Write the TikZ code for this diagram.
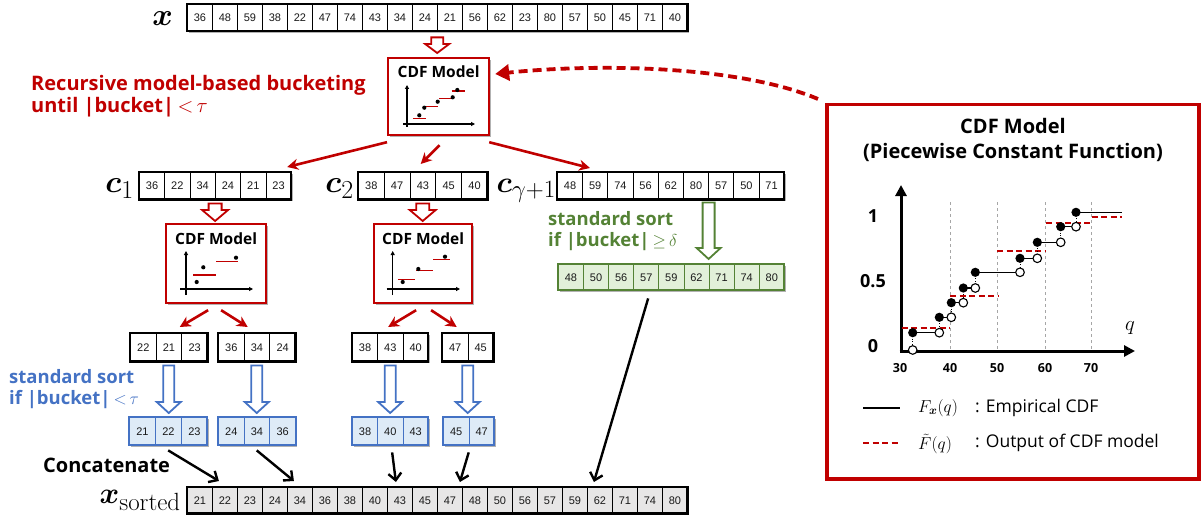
\documentclass[tikz,border=0pt]{standalone}
\usepackage{amsmath}
\usepackage[no-math]{fontspec}
\setmainfont{Open Sans}
\newfontfamily\cellfont{Liberation Sans}
\usepackage{bm}
\usetikzlibrary{arrows.meta,calc,shadows}
\definecolor{myred}{HTML}{C00000}
\definecolor{myblue}{HTML}{4472C4}
\definecolor{bluefill}{HTML}{DEEBF7}
\definecolor{mygreen}{HTML}{548235}
\definecolor{greenfill}{HTML}{E2F0D9}
\definecolor{grayfill}{HTML}{E7E6E6}
\newcommand\arr[8]{%
  \node[#7frame, minimum width=#2*#5pt, minimum height=#6pt] (#1) at (#3,#4) {};
  \foreach \v [count=\i] in {#8}{
    \node[#7cell, minimum width=#5pt, minimum height=#6pt] (#1-\i) at ({#3+(\i-1)*#5},#4) {\v};
  }
  \draw[#7border] (#1.north west) rectangle (#1.south east);
}
\newcommand\hollow[6]{%
  \draw[#1] let \p1=(#2), \p2=(#3) in
    (\x1-#4pt,\y1) -- (\x1+#4pt,\y1) -- (\x1+#4pt,\y2+#6pt) -- (\x1+#5pt,\y2+#6pt)
    -- (\x1,\y2) -- (\x1-#5pt,\y2+#6pt) -- (\x1-#4pt,\y2+#6pt) -- cycle;
}
\begin{document}
\begin{tikzpicture}[x=1pt,y=-1pt,
  shadowed/.style={drop shadow={shadow xshift=1.5pt,shadow yshift=-1.5pt,opacity=0.3,fill=black}},
  framebase/.style={rectangle,inner sep=0pt,anchor=north west,shadowed},
  cellbase/.style={rectangle,inner sep=0pt,anchor=north west,font=\cellfont\fontsize{11}{12}\selectfont,text=black!90},
  plainframe/.style={framebase,fill=white},
  plaincell/.style={cellbase,fill=white,draw=black,line width=0.8pt},
  plainborder/.style={draw=black,line width=2.2pt},
  grayframe/.style={framebase,fill=grayfill},
  graycell/.style={cellbase,fill=grayfill,draw=black,line width=0.8pt},
  grayborder/.style={draw=black,line width=2.2pt},
  blueframe/.style={framebase,fill=bluefill},
  bluecell/.style={cellbase,fill=bluefill,draw=myblue,line width=0.8pt},
  blueborder/.style={draw=myblue,line width=2pt},
  greenframe/.style={framebase,fill=greenfill},
  greencell/.style={cellbase,fill=greenfill,draw=mygreen,line width=0.8pt},
  greenborder/.style={draw=mygreen,line width=2pt},
  cdfbox/.style={rectangle,draw=myred,line width=2.2pt,fill=white,anchor=north west,inner sep=0pt,shadowed},
  boxtitle/.style={font=\bfseries\fontsize{15.5}{18}\selectfont},
  redarr/.style={draw=myred,line width=2.6pt,-{Stealth[length=11pt,width=11pt]}},
  blackarr/.style={draw=black,line width=2.4pt,-{Straight Barb[length=7pt,width=13pt]}},
  redhollow/.style={draw=myred,line width=1.8pt,fill=white},
  bluehollow/.style={draw=myblue,line width=1.8pt,fill=white},
  greenhollow/.style={draw=mygreen,line width=1.8pt,fill=white},
  miniax/.style={line width=1.1pt,-{Triangle[length=4pt,width=4pt]}},
  miniseg/.style={draw=myred,line width=1.3pt},
  bigdash/.style={draw=myred,line width=3.8pt,dash pattern=on 9pt off 5pt,-{Triangle[length=14pt,width=16pt]}},
  modeldash/.style={draw=myred,line width=2.2pt,dash pattern=on 6pt off 3.5pt},
  mathlbl/.style={anchor=base east,inner sep=0pt,font=\fontsize{24.88}{30}\selectfont},
  redtxt/.style={anchor=base west,inner sep=0pt,text=myred,font=\bfseries\fontsize{20}{24}\selectfont},
  bluetxt/.style={anchor=base west,inner sep=0pt,text=myblue,font=\bfseries\fontsize{18.5}{22}\selectfont},
  greentxt/.style={anchor=base west,inner sep=0pt,text=mygreen,font=\bfseries\fontsize{18.5}{22}\selectfont},
  blacktxt/.style={anchor=base west,inner sep=0pt,font=\bfseries\fontsize{20}{24}\selectfont},
  ticklbl/.style={inner sep=0pt,font=\bfseries\fontsize{12.5}{14}\selectfont},
  ylbl/.style={inner sep=0pt,font=\bfseries\fontsize{18}{20}\selectfont},
  legtxt/.style={anchor=west,inner sep=0pt,font=\fontsize{17.5}{20}\selectfont},
  filldot/.style={fill=black},
  holdot/.style={fill=white,draw=black,line width=1.1pt}
]
\useasboundingbox (0,0) rectangle (1201,516);

% ---------- arrays ----------
\arr{xin}{20}{187}{4}{25}{27}{plain}{36,48,59,38,22,47,74,43,34,24,21,56,62,23,80,57,50,45,71,40}
\arr{c1}{6}{139}{172}{25.3}{27}{plain}{36,22,34,24,21,23}
\arr{c2}{5}{358}{172}{25.8}{27}{plain}{38,47,43,45,40}
\arr{cg}{9}{557}{172}{25.2}{27}{plain}{48,59,74,56,62,80,57,50,71}
\arr{G}{9}{558}{264}{25.1}{26}{green}{48,50,56,57,59,62,71,74,80}
\arr{L1}{3}{130}{333}{25.7}{28}{plain}{22,21,23}
\arr{L2}{3}{218}{333}{25.7}{28}{plain}{36,34,24}
\arr{L3}{3}{352}{333}{25.3}{28}{plain}{38,43,40}
\arr{L4}{2}{442}{333}{25.5}{28}{plain}{47,45}
\arr{S1}{3}{129}{417}{26}{28}{blue}{21,22,23}
\arr{S2}{3}{218}{417}{25.7}{28}{blue}{24,34,36}
\arr{S3}{3}{352}{417}{25.3}{28}{blue}{38,40,43}
\arr{S4}{2}{443}{417}{25.5}{28}{blue}{45,47}
\arr{xs}{20}{187}{487}{25}{26}{gray}{21,22,23,24,34,36,38,40,43,45,47,48,50,56,57,59,62,71,74,80}

% ---------- labels of arrays ----------
\node[mathlbl] (xlbl) at (173,26) {\scalebox{1.25}{$\bm{x}$}};
\node[mathlbl] (c1lbl) at (134,192) {\scalebox{1.25}{$\bm{c}_1$}};
\node[mathlbl] (c2lbl) at (354,192) {\scalebox{1.25}{$\bm{c}_2$}};
\node[mathlbl] (cglbl) at (556,192) {\scalebox{1.2}{$\bm{c}_{\gamma+1}$}};
\node[mathlbl] (xslbl) at (181,503) {\scalebox{1.2}{$\bm{x}_{\mathrm{sorted}}$}};

% ---------- CDF model boxes ----------
\node[cdfbox,minimum width=101pt,minimum height=77pt] (topcdf) at (387,57) {};
\node[boxtitle] (topcdf-t) at ($(topcdf.north)+(0,15)$) {CDF Model};
\draw[miniax] (407,127) -- (407,85);
\draw[miniax] (403,124) -- (475,124);
\draw[miniseg] (413,118.3) -- (426,118.3);
\draw[miniseg] (424,106.7) -- (437.7,106.7);
\draw[miniseg] (439,98.3) -- (452.7,98.3);
\draw[miniseg] (451.7,91) -- (465,91);
\foreach \p in {(419.3,115.3),(424.3,107.7),(437.7,101.7),(452.7,97.3),(457.3,90)} \fill \p circle (2.1pt);

\node[cdfbox,minimum width=100pt,minimum height=79pt] (m1) at (165,223) {};
\node[boxtitle] (m1-t) at ($(m1.north)+(0,16)$) {CDF Model};
\draw[miniax] (186,295) -- (186,251);
\draw[miniax] (180,289) -- (253,289);
\draw[miniseg] (193.3,275) -- (216,275);
\draw[miniseg] (216,261.7) -- (237.7,261.7);
\foreach \p in {(196.7,282),(203.3,267.3),(236,257.7)} \fill \p circle (2.1pt);

\node[cdfbox,minimum width=98pt,minimum height=79pt] (m2) at (373,223) {};
\node[boxtitle] (m2-t) at ($(m2.north)+(0,16)$) {CDF Model};
\draw[miniax] (392.7,295) -- (392.7,251);
\draw[miniax] (386.7,289) -- (460,289);
\draw[miniseg] (398.3,279.3) -- (415,279.3);
\draw[miniseg] (416,270.7) -- (432.7,270.7);
\draw[miniseg] (433.3,259.3) -- (450,259.3);
\foreach \p in {(402.7,282),(418.3,269),(445,256.7)} \fill \p circle (2.1pt);

% ---------- hollow arrows ----------
\hollow{redhollow}{$(xin.south)+(0,6)$}{$(topcdf.north)+(0,-4)$}{6}{12}{9}
\hollow{redhollow}{$(c1.south)+(0,4)$}{$(m1.north)+(0,-2)$}{6.5}{13}{11}
\hollow{redhollow}{$(c2.south)+(0,4)$}{$(m2.north)+(0,-2)$}{6.5}{13}{11}
\hollow{greenhollow}{$(cg.south)+(38,3)$}{$(G.north)+(38,-5)$}{6}{12}{11}
\hollow{bluehollow}{$(L1.south)+(0,4)$}{$(S1.north)+(0,-4)$}{5.5}{12}{11}
\hollow{bluehollow}{$(L2.south)+(0,4)$}{$(S2.north)+(0,-4)$}{5.5}{12}{11}
\hollow{bluehollow}{$(L3.south)+(0,4)$}{$(S3.north)+(0,-4)$}{5.5}{12}{11}
\hollow{bluehollow}{$(L4.south)+(0,4)$}{$(S4.north)+(0,-4)$}{5.5}{12}{11}

% ---------- red arrows ----------
\draw[redarr] ($(topcdf.south west)+(0,6)$) -- ($(c1.north east)+(-4,-5)$);
\draw[redarr] ($(topcdf.south)+(1,9)$) -- ($(c2.north)+(-2,-8)$);
\draw[redarr] ($(topcdf.south east)+(-1,6)$) -- ($(cg.north west)+(33,-4)$);
\draw[redarr] ($(m1.south)+(-8,6)$) -- ($(L1.north)+(11,-6)$);
\draw[redarr] ($(m1.south)+(5,6)$) -- ($(L2.north)+(-9,-6)$);
\draw[redarr] ($(m2.south)+(-7,6)$) -- ($(L3.north)+(-2,-6)$);
\draw[redarr] ($(m2.south)+(8,6)$) -- ($(L4.north)+(-11,-6)$);

% ---------- black arrows ----------
\draw[blackarr] ($(S1.south)+(0,5)$) -- ($(xs-2.north)+(-6,-6)$);
\draw[blackarr] ($(S2.south)+(0,5)$) -- ($(xs-5.north)+(-6,-6)$);
\draw[blackarr] ($(S3.south)+(2,7)$) -- ($(xs-9.north)+(-4,-5)$);
\draw[blackarr] ($(S4.south)+(0,7)$) -- ($(xs-11.north)+(10,-5)$);
\draw[blackarr] ($(G.south)+(-23,8)$) -- ($(xs-17.north)+(-6,-5)$);

% ---------- texts ----------
\node[redtxt] (r1) at (31,91) {Recursive model-based bucketing};
\node[redtxt] (r2) at (31,113) {until |bucket|\,${<}\,\tau$};
\node[greentxt] (g1) at (548,225) {standard sort};
\node[greentxt] (g2) at (548,246) {if |bucket|\,${\geq}\,\delta$};
\node[bluetxt] (b1) at (9,383) {standard sort};
\node[bluetxt] (b2) at (9,404) {if |bucket|\,${<}\,\tau$};
\node[blacktxt] (concat) at (43,472) {Concatenate};

% ---------- right panel ----------
\node[rectangle,draw=myred,line width=3.5pt,minimum width=372pt,minimum height=374pt,anchor=north west,inner sep=0pt,fill=white] (panel) at (825,103) {};
\draw[bigdash] ($(panel.north west)+(-7,-4)$) .. controls (740,66) and (600,63) .. ($(topcdf.north east)+(5,17)$);

\node[anchor=base,inner sep=0pt,font=\bfseries\fontsize{20}{24}\selectfont] (pt1) at (1013,134) {CDF Model};
\node[anchor=base,inner sep=0pt,font=\bfseries\fontsize{20}{24}\selectfont] (pt2) at (1013,158) {(Piecewise Constant Function)};

\foreach \gx in {950,997,1045,1091} \draw[gray!70,dashed,line width=0.7pt] (\gx,202) -- (\gx,351);
\draw[line width=3pt,-{Triangle[length=11pt,width=11pt]}] (901,352.5) -- (901,185);
\draw[line width=3pt,-{Triangle[length=11pt,width=11pt]}] (899.5,351) -- (1135,351);

\draw[modeldash] (901.7,327.7) -- (949.3,327.7);
\draw[modeldash] (950,295.7) -- (997.7,295.7);
\draw[modeldash] (997,251) -- (1046,251);
\draw[modeldash] (1046,223.3) -- (1091.7,223.3);
\draw[modeldash] (1091.7,216.7) -- (1121.7,216.7);

\foreach \xa/\ya/\yb/\xn in {912.7/332.7/350/939.3, 939.3/317.3/332.7/951.3, 951.3/302.7/317.3/963.3, 963.3/288/302.7/975.3, 975.3/272.3/288/1020, 1020/258.3/272.3/1037.3, 1037.3/242.3/258.3/1060.7, 1060.7/226.7/242.3/1076, 1076/212.3/226.7/1121.7}{
  \draw[line width=1.1pt] (\xa,\ya) -- (\xn,\ya);
  \draw[line width=0.9pt,dotted] (\xa,\ya) -- (\xa,\yb);
}
\foreach \xa/\ya/\yb in {912.7/332.7/350, 939.3/317.3/332.7, 951.3/302.7/317.3, 963.3/288/302.7, 975.3/272.3/288, 1020/258.3/272.3, 1037.3/242.3/258.3, 1060.7/226.7/242.3, 1076/212.3/226.7}{
  \draw[holdot] (\xa,\yb) circle (4.3pt);
  \fill[filldot] (\xa,\ya) circle (4.6pt);
}

\node[ticklbl] (t30) at (900,368) {30};
\node[ticklbl] (t40) at (950,368) {40};
\node[ticklbl] (t50) at (997,368) {50};
\node[ticklbl] (t60) at (1045,368) {60};
\node[ticklbl] (t70) at (1091,368) {70};
\node[ylbl] (y1) at (873,216) {1};
\node[ylbl] (y05) at (873,281) {0.5};
\node[ylbl] (y0) at (873,346) {0};
\node[inner sep=0pt,font=\fontsize{20.74}{24}\selectfont] (qlbl) at (1130,328) {$q$};

\coordinate (leg1a) at (863,408);
\coordinate (leg1b) at (900,408);
\draw[line width=1.6pt] (leg1a) -- (leg1b);
\node[legtxt] (lt1) at (918,408) {$F_{\bm{x}}(q)$};
\node[legtxt] (ld1) at (975,408) {: Empirical CDF};
\coordinate (leg2a) at (863,443);
\coordinate (leg2b) at (900,443);
\draw[modeldash,line width=2pt] (leg2a) -- (leg2b);
\node[legtxt] (lt2) at (918,444) {$\tilde{F}(q)$};
\node[legtxt] (ld2) at (975,443) {: Output of CDF model};
\end{tikzpicture}
\end{document}
